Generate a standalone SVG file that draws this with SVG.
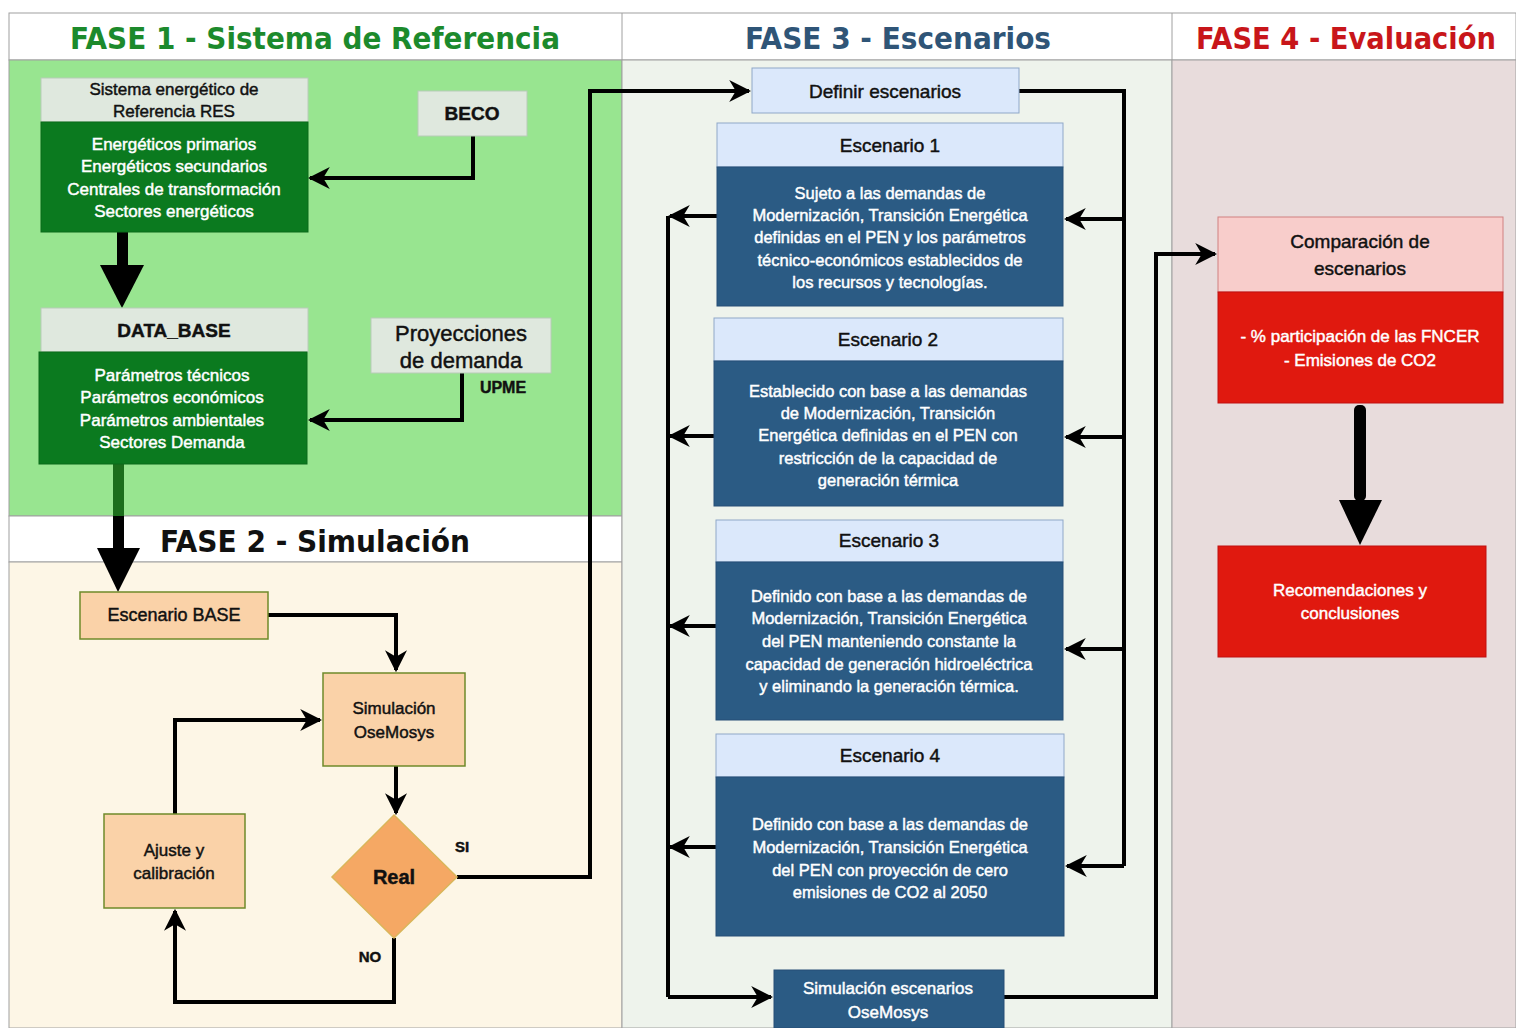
<svg xmlns="http://www.w3.org/2000/svg" width="1516" height="1028" viewBox="0 0 1516 1028">
<style>
.t{font-family:"Liberation Sans",Arial,sans-serif;text-anchor:middle}
.w{fill:#ffffff;stroke:#ffffff;stroke-width:0.45}
.k{fill:#111111;stroke:#111111;stroke-width:0.45}
.ttl{font-family:"DejaVu Sans Condensed","DejaVu Sans",Verdana,sans-serif;font-weight:bold;font-size:30px}
.ln{fill:none;stroke:#000;stroke-width:4;marker-end:url(#ah)}
.lnn{fill:none;stroke:#000;stroke-width:4}
.hdr{fill:#dfe8de;stroke:#b8ccb8;stroke-width:1}
.grn{fill:#0b7a1f;stroke:#0a6a1a;stroke-width:1}
.org{fill:#fad2a8;stroke:#6f8a2a;stroke-width:1.5}
.bh{fill:#dbe8fb;stroke:#8fa8c8;stroke-width:1}
.bb{fill:#2b5b84;stroke:#264f76;stroke-width:1}
</style>
<defs>
<marker id="ah" viewBox="0 0 10 10" markerWidth="5.5" markerHeight="5.5" refX="9" refY="5" orient="auto" markerUnits="strokeWidth">
<path d="M0,0 L10,5 L0,10 L3,5 z" fill="#000"/>
</marker>
</defs>
<rect x="0" y="0" width="1516" height="1028" fill="#ffffff"/>
<g id="lanes">
<rect x="9" y="13" width="1507" height="47" fill="#ffffff" stroke="#a0a0a0" stroke-width="1"/>
<rect x="9" y="60" width="613" height="456" fill="#98e590" stroke="#a0a0a0" stroke-width="1"/>
<rect x="9" y="516" width="613" height="46" fill="#ffffff" stroke="#a0a0a0" stroke-width="1"/>
<rect x="9" y="562" width="613" height="466" fill="#fdf6e6" stroke="#a0a0a0" stroke-width="1"/>
<rect x="622" y="60" width="550" height="968" fill="#eef3ec" stroke="#a0a0a0" stroke-width="1"/>
<rect x="1172" y="60" width="344" height="968" fill="#e8dcdc" stroke="#a0a0a0" stroke-width="1"/>
<line x1="622" y1="13" x2="622" y2="60" stroke="#a0a0a0"/>
<line x1="1172" y1="13" x2="1172" y2="60" stroke="#a0a0a0"/>
<text class="ttl" x="315" y="49" text-anchor="middle" fill="#1c8a2c" textLength="490" lengthAdjust="spacingAndGlyphs">FASE 1 - Sistema de Referencia</text>
<text class="ttl" x="898" y="49" text-anchor="middle" fill="#2f5577" textLength="306" lengthAdjust="spacingAndGlyphs">FASE 3 - Escenarios</text>
<text class="ttl" x="1346" y="49" text-anchor="middle" fill="#c8161a" textLength="300" lengthAdjust="spacingAndGlyphs">FASE 4 - Evaluación</text>
<text class="ttl" x="315" y="552" text-anchor="middle" fill="#111" textLength="310" lengthAdjust="spacingAndGlyphs">FASE 2 - Simulación</text>
</g>
<g id="connectors">
<polyline class="ln" points="473,136 473,178 310,178"/>
<polyline class="ln" points="462,373 462,420 310,420"/>
<rect x="117" y="232" width="11" height="34" fill="#000"/>
<polygon points="100,265 144,265 122,308" fill="#000"/>
<rect x="113" y="464" width="11" height="52" fill="#1c6e1c"/>
<rect x="113" y="516" width="11" height="34" fill="#000"/>
<polygon points="97,548 140,548 118,592" fill="#000"/>
<polyline class="ln" points="268,615 396,615 396,670"/>
<polyline class="ln" points="396,766 396,813"/>
<polyline class="ln" points="457,877 590,877 590,91 749,91"/>
<polyline class="ln" points="394,938 394,1002 175,1002 175,911"/>
<polyline class="ln" points="175,814 175,720 320,720"/>
<polyline class="lnn" points="1019,91 1124,91 1124,866"/>
<polyline class="ln" points="1124,219 1066,219"/>
<polyline class="ln" points="1124,437 1066,437"/>
<polyline class="ln" points="1124,649 1066,649"/>
<polyline class="ln" points="1124,866 1067,866"/>
<polyline class="lnn" points="668,216 668,997"/>
<polyline class="ln" points="717,216 670,216"/>
<polyline class="ln" points="714,436 670,436"/>
<polyline class="ln" points="716,626 670,626"/>
<polyline class="ln" points="716,847 670,847"/>
<polyline class="ln" points="668,997 771,997"/>
<polyline class="ln" points="1004,997 1156,997 1156,254 1215,254"/>
<rect x="1354" y="405" width="12" height="96" rx="5" fill="#000"/>
<polygon points="1339,500 1382,500 1360,545" fill="#000"/>
</g>
<g id="res">
<rect class="hdr" x="41" y="78" width="267" height="44"/>
<text class="t k" x="174" y="95" font-size="17">Sistema energético de</text>
<text class="t k" x="174" y="117" font-size="17">Referencia RES</text>
<rect class="grn" x="41" y="122" width="267" height="110"/>
<text class="t w" x="174" y="150" font-size="17">Energéticos primarios</text>
<text class="t w" x="174" y="172" font-size="17">Energéticos secundarios</text>
<text class="t w" x="174" y="195" font-size="17">Centrales de transformación</text>
<text class="t w" x="174" y="217" font-size="17">Sectores energéticos</text>
</g>
<g id="beco">
<rect class="hdr" x="418" y="91" width="109" height="45"/>
<text class="t k" x="472" y="120" font-size="19" font-weight="bold">BECO</text>
</g>
<g id="database">
<rect class="hdr" x="41" y="308" width="267" height="44"/>
<text class="t k" x="174" y="337" font-size="19" font-weight="bold">DATA_BASE</text>
<rect class="grn" x="39" y="352" width="268" height="112"/>
<text class="t w" x="172" y="381" font-size="17">Parámetros técnicos</text>
<text class="t w" x="172" y="403" font-size="17">Parámetros económicos</text>
<text class="t w" x="172" y="426" font-size="17">Parámetros ambientales</text>
<text class="t w" x="172" y="448" font-size="17">Sectores Demanda</text>
</g>
<g id="proyecciones">
<rect class="hdr" x="371" y="318" width="180" height="55"/>
<text class="t k" x="461" y="341" font-size="22">Proyecciones</text>
<text class="t k" x="461" y="368" font-size="22">de demanda</text>
<text class="t k" x="503" y="393" font-size="16" font-weight="bold">UPME</text>
</g>
<g id="base">
<rect class="org" x="80" y="592" width="188" height="47"/>
<text class="t k" x="174" y="621" font-size="18">Escenario BASE</text>
</g>
<g id="simulacion">
<rect class="org" x="323" y="673" width="142" height="93"/>
<text class="t k" x="394" y="714" font-size="17">Simulación</text>
<text class="t k" x="394" y="738" font-size="17">OseMosys</text>
</g>
<g id="real">
<polygon points="394,815 457,877 394,938 332,877" fill="#f5a864" stroke="#d9b65a" stroke-width="1.5"/>
<text class="t k" x="394" y="884" font-size="20" font-weight="bold">Real</text>
<text class="t k" x="462" y="852" font-size="15" font-weight="bold">SI</text>
<text class="t k" x="370" y="962" font-size="15" font-weight="bold">NO</text>
</g>
<g id="ajuste">
<rect class="org" x="104" y="814" width="141" height="94"/>
<text class="t k" x="174" y="856" font-size="17">Ajuste y</text>
<text class="t k" x="174" y="879" font-size="17">calibración</text>
</g>
<g id="definir">
<rect class="bh" x="752" y="68" width="267" height="45"/>
<text class="t k" x="885" y="98" font-size="19">Definir escenarios</text>
</g>
<g id="esc1">
<rect class="bh" x="717" y="123" width="346" height="44"/>
<text class="t k" x="890" y="152" font-size="19">Escenario 1</text>
<rect class="bb" x="717" y="167" width="346" height="139"/>
<text class="t w" x="890" y="199" font-size="16.5">Sujeto a las demandas de</text>
<text class="t w" x="890" y="221" font-size="16.5">Modernización, Transición Energética</text>
<text class="t w" x="890" y="243" font-size="16.5">definidas en el PEN y los parámetros</text>
<text class="t w" x="890" y="266" font-size="16.5">técnico-económicos establecidos de</text>
<text class="t w" x="890" y="288" font-size="16.5">los recursos y tecnologías.</text>
</g>
<g id="esc2">
<rect class="bh" x="714" y="318" width="349" height="43"/>
<text class="t k" x="888" y="346" font-size="19">Escenario 2</text>
<rect class="bb" x="714" y="361" width="349" height="145"/>
<text class="t w" x="888" y="397" font-size="16.5">Establecido con base a las demandas</text>
<text class="t w" x="888" y="419" font-size="16.5">de Modernización, Transición</text>
<text class="t w" x="888" y="441" font-size="16.5">Energética definidas en el PEN con</text>
<text class="t w" x="888" y="464" font-size="16.5">restricción de la capacidad de</text>
<text class="t w" x="888" y="486" font-size="16.5">generación térmica</text>
</g>
<g id="esc3">
<rect class="bh" x="716" y="520" width="347" height="42"/>
<text class="t k" x="889" y="547" font-size="19">Escenario 3</text>
<rect class="bb" x="716" y="562" width="347" height="158"/>
<text class="t w" x="889" y="602" font-size="16.5">Definido con base a las demandas de</text>
<text class="t w" x="889" y="624" font-size="16.5">Modernización, Transición Energética</text>
<text class="t w" x="889" y="647" font-size="16.5">del PEN manteniendo constante la</text>
<text class="t w" x="889" y="670" font-size="16.5">capacidad de generación hidroeléctrica</text>
<text class="t w" x="889" y="692" font-size="16.5">y eliminando la generación térmica.</text>
</g>
<g id="esc4">
<rect class="bh" x="716" y="734" width="348" height="43"/>
<text class="t k" x="890" y="762" font-size="19">Escenario 4</text>
<rect class="bb" x="716" y="777" width="348" height="159"/>
<text class="t w" x="890" y="830" font-size="16.5">Definido con base a las demandas de</text>
<text class="t w" x="890" y="853" font-size="16.5">Modernización, Transición Energética</text>
<text class="t w" x="890" y="876" font-size="16.5">del PEN con proyección de cero</text>
<text class="t w" x="890" y="898" font-size="16.5">emisiones de CO2 al 2050</text>
</g>
<g id="simesc">
<rect class="bb" x="774" y="970" width="230" height="58"/>
<text class="t w" x="888" y="994" font-size="17">Simulación escenarios</text>
<text class="t w" x="888" y="1018" font-size="17">OseMosys</text>
</g>
<g id="comparacion">
<rect x="1218" y="217" width="285" height="75" fill="#f8cdcb" stroke="#d08080" stroke-width="1"/>
<text class="t k" x="1360" y="248" font-size="19">Comparación de</text>
<text class="t k" x="1360" y="275" font-size="19">escenarios</text>
<rect x="1218" y="292" width="285" height="111" fill="#e0190f" stroke="#c01010" stroke-width="1"/>
<text class="t w" x="1360" y="342" font-size="17">- % participación de las FNCER</text>
<text class="t w" x="1360" y="366" font-size="17">- Emisiones de CO2</text>
</g>
<g id="recomendaciones">
<rect x="1218" y="546" width="268" height="111" fill="#e0190f" stroke="#c01010" stroke-width="1"/>
<text class="t w" x="1350" y="596" font-size="17">Recomendaciones y</text>
<text class="t w" x="1350" y="619" font-size="17">conclusiones</text>
</g>
</svg>
